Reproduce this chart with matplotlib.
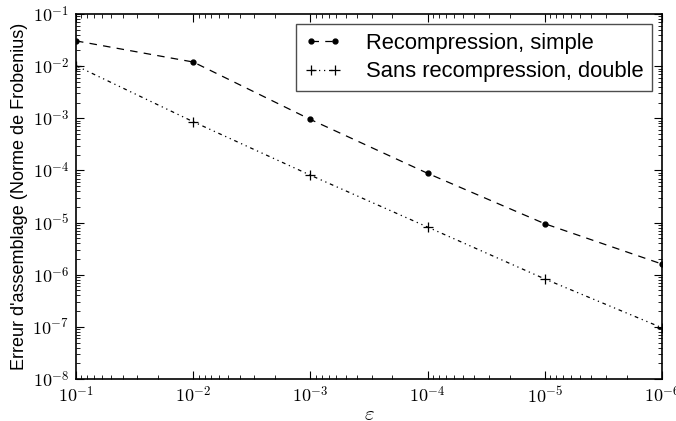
import matplotlib
matplotlib.use("Agg")
import matplotlib.pyplot as plt
import numpy as np
from matplotlib.ticker import LogLocator, NullFormatter, FuncFormatter

eps = [1e-1, 1e-2, 1e-3, 1e-4, 1e-5, 1e-6]
err_simple = [3.05e-2, 1.2e-2, 9.5e-4, 8.8e-5, 9.5e-6, 1.6e-6]
err_double = [1.02e-2, 8.6e-4, 8.1e-5, 8.2e-6, 8.3e-7, 9.6e-8]
labels = ["Recompression, simple", "Sans recompression, double"]

plt.rcParams['mathtext.fontset'] = 'cm'
plt.rcParams['font.family'] = ['Liberation Sans', 'DejaVu Sans']

fig = plt.figure(figsize=(6.76, 4.21), dpi=100)
ax = fig.add_axes([76/676, 1-379/421, (662-76)/676, (379-14)/421])

ax.loglog(eps, err_simple, color='k', lw=0.9, marker='o', ms=3.5,
          dashes=(6, 5), label=labels[0])
ax.loglog(eps, err_double, color='k', lw=0.9, marker='+', ms=7, mew=0.9,
          dashes=(3, 3, 1, 3, 1, 3), label=labels[1])

ax.set_xlim(1e-1, 1e-6)
ax.set_ylim(1e-8, 1e-1)

def logfmt(v, pos):
    e = int(round(np.log10(v)))
    return r'$10^{%d}$' % e

for axis in (ax.xaxis, ax.yaxis):
    axis.set_major_locator(LogLocator(base=10, numticks=20))
    axis.set_minor_locator(LogLocator(base=10, subs=range(2, 10), numticks=20))
    axis.set_minor_formatter(NullFormatter())
    axis.set_major_formatter(FuncFormatter(logfmt))
ax.tick_params(which='both', direction='in', top=True, right=True, labelsize=13)
ax.tick_params(which='major', length=6, width=0.8, pad=5)
ax.tick_params(which='minor', length=3, width=0.6)
for s in ax.spines.values():
    s.set_linewidth(1.2)

ax.set_xlabel(r'$\varepsilon$', fontsize=15, labelpad=-1)
ax.set_ylabel("Erreur d'assemblage (Norme de Frobenius)", fontsize=13, labelpad=3)

leg = ax.legend(loc='upper right', fontsize=15.8, numpoints=2, handlelength=1.7,
                fancybox=False, framealpha=1, borderaxespad=0.45, handletextpad=1.1,
                borderpad=0.4, labelspacing=0.35)
leg.get_frame().set_edgecolor('0.3')
leg.get_frame().set_linewidth(1.0)

fig.savefig('out.png', dpi=100, facecolor='white')
